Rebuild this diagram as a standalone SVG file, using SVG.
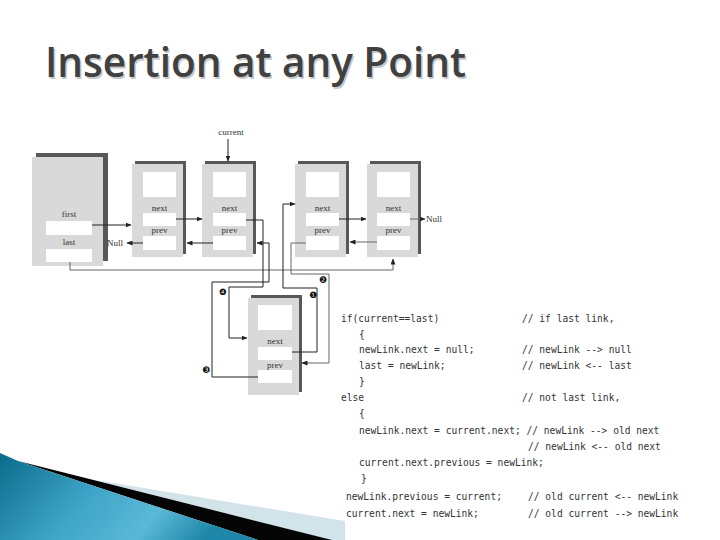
<svg xmlns="http://www.w3.org/2000/svg" width="720" height="540" viewBox="0 0 720 540">
<defs>
<marker id="ah" markerWidth="6" markerHeight="5" refX="5.5" refY="2.5" orient="auto" markerUnits="userSpaceOnUse">
<path d="M0,0 L6,2.5 L0,5 Z" fill="#222"/>
</marker>
<linearGradient id="blue" x1="0" y1="0" x2="1" y2="0.3">
<stop offset="0" stop-color="#0b6b8a"/>
<stop offset="0.45" stop-color="#3fa5c8"/>
<stop offset="0.75" stop-color="#5ab8d6"/>
<stop offset="1" stop-color="#1e86a8"/>
</linearGradient>
<style>
.title{font-family:"Open Sans","DejaVu Sans",sans-serif;font-weight:600;font-size:42px}
.sh{fill:#585858}
.bd{fill:#d9d9d9}
.fld{fill:#ffffff}
.lbl{font-family:"Liberation Serif","DejaVu Serif",serif;font-size:9px;fill:#333;text-anchor:middle}
.lbl2{font-family:"Liberation Serif","DejaVu Serif",serif;font-size:9px;fill:#333}
.ln{fill:none;stroke:#222;stroke-width:1}
.lg{fill:none;stroke:#666;stroke-width:1}
.num{font-family:"DejaVu Sans",sans-serif;font-size:9px;fill:#111;text-anchor:middle}
.code{font-family:"DejaVu Sans Mono","Liberation Mono",monospace;font-size:9.6px;fill:#333;white-space:pre}
</style>
</defs>
<rect width="720" height="540" fill="#ffffff"/>

<!-- title -->
<g id="title">
<text class="title" x="46.5" y="78.5" fill="#c8c8c8" textLength="421" lengthAdjust="spacingAndGlyphs">Insertion at any Point</text>
<text class="title" x="45" y="77" fill="#404040" textLength="421" lengthAdjust="spacingAndGlyphs">Insertion at any Point</text>
</g>

<!-- decoration -->
<g id="decoration">
<polygon points="95,480 345,521 345,540 330,540" fill="#d3e3ea"/>
<polygon points="18,461 332,540 258,540" fill="#050505"/>
<polygon points="0,453 18,461 258,540 0,540" fill="url(#blue)"/>
</g>

<!-- first/last node -->
<g id="listhead">
<rect class="sh" x="36" y="153" width="72" height="108"/>
<rect class="bd" x="32" y="157" width="71" height="109"/>
<text class="lbl" x="69" y="217">first</text>
<rect class="fld" x="46" y="221" width="46" height="14"/>
<text class="lbl" x="69" y="245">last</text>
<rect class="fld" x="46" y="249" width="46" height="13"/>
</g>

<g id="node1">
<rect class="sh" x="135" y="161" width="51" height="93"/>
<rect class="bd" x="132" y="164" width="51" height="93"/>
<rect class="fld" x="143" y="172" width="33" height="25"/>
<text class="lbl" x="159.5" y="211">next</text>
<rect class="fld" x="143" y="213" width="33" height="13"/>
<text class="lbl" x="159.5" y="233">prev</text>
<rect class="fld" x="143" y="236" width="33" height="14"/>
</g>

<g id="node2">
<rect class="sh" x="205" y="161" width="51" height="93"/>
<rect class="bd" x="202" y="164" width="51" height="93"/>
<rect class="fld" x="213" y="172" width="33" height="25"/>
<text class="lbl" x="229.5" y="211">next</text>
<rect class="fld" x="213" y="213" width="33" height="13"/>
<text class="lbl" x="229.5" y="233">prev</text>
<rect class="fld" x="213" y="236" width="33" height="14"/>
</g>

<g id="node3">
<rect class="sh" x="298" y="161" width="51" height="93"/>
<rect class="bd" x="295" y="164" width="51" height="93"/>
<rect class="fld" x="306" y="172" width="33" height="25"/>
<text class="lbl" x="322.5" y="211">next</text>
<rect class="fld" x="306" y="213" width="33" height="13"/>
<text class="lbl" x="322.5" y="233">prev</text>
<rect class="fld" x="306" y="236" width="33" height="14"/>
</g>

<g id="node4">
<rect class="sh" x="370" y="161" width="51" height="93"/>
<rect class="bd" x="367" y="164" width="51" height="93"/>
<rect class="fld" x="377" y="172" width="33" height="25"/>
<text class="lbl" x="393.5" y="211">next</text>
<rect class="fld" x="377" y="213" width="33" height="13"/>
<text class="lbl" x="393.5" y="233">prev</text>
<rect class="fld" x="377" y="236" width="33" height="14"/>
</g>

<g id="newlink">
<rect class="sh" x="251" y="295" width="51" height="97"/>
<rect class="bd" x="248" y="298" width="51" height="97"/>
<rect class="fld" x="258" y="305" width="34" height="25"/>
<text class="lbl" x="275" y="344">next</text>
<rect class="fld" x="258" y="347" width="34" height="13"/>
<text class="lbl" x="275" y="368">prev</text>
<rect class="fld" x="258" y="370" width="34" height="13"/>
</g>

<g id="labels">
<text class="lbl" x="231" y="135">current</text>
<text class="lbl2" x="107" y="245.5">Null</text>
<text class="lbl2" x="426" y="222">Null</text>
<text class="num" x="313" y="297.5">❶</text>
<text class="num" x="323" y="282.5">❷</text>
<text class="num" x="206" y="372.5">❸</text>
<text class="num" x="223" y="294.5">❹</text>
</g>

<!-- connectors -->
<g id="connectors">
<path class="ln" d="M228,139 V161" marker-end="url(#ah)"/>
<path class="ln" d="M92,225 H131" marker-end="url(#ah)"/>
<path class="ln" d="M176,219 H202" marker-end="url(#ah)"/>
<path class="ln" d="M143,243 H127" marker-end="url(#ah)"/>
<path class="ln" d="M213,243 H187" marker-end="url(#ah)"/>
<path class="ln" d="M339,219 H366" marker-end="url(#ah)"/>
<path class="lg" d="M377,242 H350" marker-end="url(#ah)"/>
<path class="lg" d="M410,219 H425" marker-end="url(#ah)"/>
<path class="lg" d="M70,262 V270 H393 V259" marker-end="url(#ah)"/>
<path class="ln" d="M292,352 H317 V288 H283 V204 H295" marker-end="url(#ah)"/>
<path class="lg" d="M306,243 H291 V274 H329 V363 H302" marker-end="url(#ah)"/>
<path class="ln" d="M258,377 H212 V282 H269 V243 H257" marker-end="url(#ah)"/>
<path class="ln" d="M246,220 H263 V287 H229 V338 H247" marker-end="url(#ah)"/>
</g>

<!-- code -->
<g id="code">
<text class="code" x="341" y="322">if(current==last)</text>
<text class="code" x="522" y="322">// if last link,</text>
<text class="code" x="359" y="338">{</text>
<text class="code" x="359" y="353">newLink.next = null;</text>
<text class="code" x="522" y="353">// newLink --> null</text>
<text class="code" x="359" y="369">last = newLink;</text>
<text class="code" x="522" y="369">// newLink &lt;-- last</text>
<text class="code" x="359" y="385">}</text>
<text class="code" x="341" y="401">else</text>
<text class="code" x="522" y="401">// not last link,</text>
<text class="code" x="359" y="417">{</text>
<text class="code" x="359" y="434">newLink.next = current.next; // newLink --> old next</text>
<text class="code" x="528" y="450">// newLink &lt;-- old next</text>
<text class="code" x="359" y="466">current.next.previous = newLink;</text>
<text class="code" x="361" y="482">}</text>
<text class="code" x="346" y="500">newLink.previous = current;</text>
<text class="code" x="528" y="500">// old current &lt;-- newLink</text>
<text class="code" x="346" y="517">current.next = newLink;</text>
<text class="code" x="528" y="517">// old current --> newLink</text>
</g>
</svg>
